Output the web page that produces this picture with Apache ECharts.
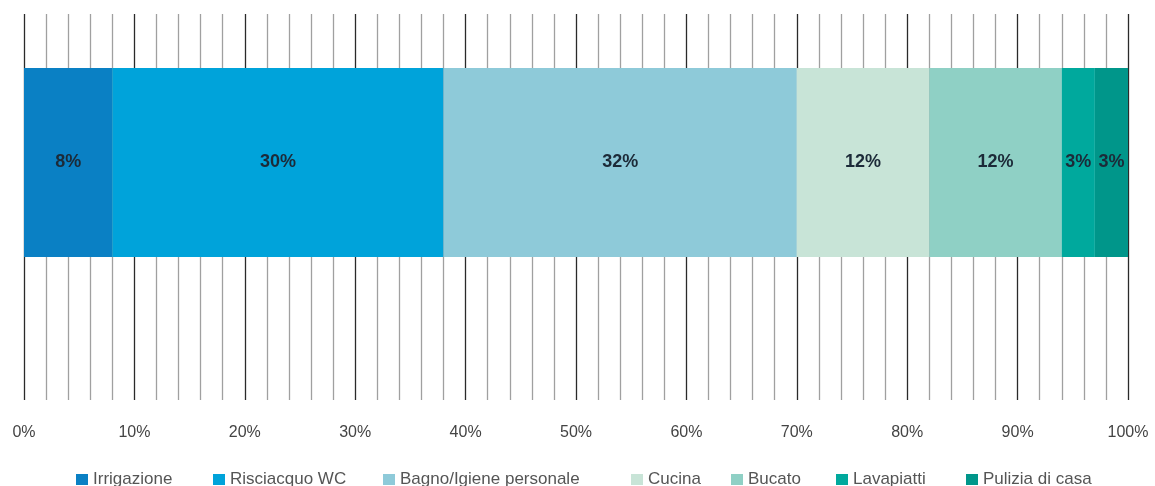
<!DOCTYPE html>
<html>
<head>
<meta charset="utf-8">
<script src="https://cdn.jsdelivr.net/npm/echarts@6/dist/echarts.min.js"></script>
<style>
html,body{margin:0;padding:0;background:#fff;}
#chart{width:1155px;height:486px;}
</style>
</head>
<body>
<div id="chart"></div>
<script>
const categories = ['Irrigazione', 'Risciacquo WC', 'Bagno/Igiene personale', 'Cucina', 'Bucato', 'Lavapiatti', 'Pulizia di casa'];
const values = [8, 30, 32, 12, 12, 3, 3];
const colors = ['#0a80c4', '#00a3da', '#8ecad9', '#c8e4d7', '#8fd0c5', '#00a99d', '#00968a'];
const barLabel = ['Consumo'];

// layout: left edge of each legend item (pixels)
const legendLeft = [71, 208, 378, 626, 726, 831, 961];

const FONT = 'Liberation Sans, Arial, sans-serif';
const chart = echarts.init(document.getElementById('chart'), null, {renderer: 'canvas'});
const series = categories.map((name, i) => ({
  name: name,
  type: 'bar',
  stack: 'total',
  xAxisIndex: 1,
  yAxisIndex: 1,
  barWidth: '100%',
  itemStyle: {color: colors[i]},
  label: {
    show: true,
    position: 'inside',
    formatter: '{c}%',
    fontFamily: FONT,
    fontWeight: 'bold',
    fontSize: 18,
    color: '#1c2a38'
  },
  data: [values[i]]
}));

const legends = categories.map((name, i) => ({
  data: [name],
  top: 466,
  left: legendLeft[i],
  icon: 'rect',
  itemWidth: 12,
  itemHeight: 11,
  textStyle: {fontSize: 17, color: '#555', fontFamily: FONT}
}));

chart.setOption({
  animation: false,
  backgroundColor: '#fff',
  textStyle: {fontFamily: FONT},
  grid: [
    {left: 24, right: 27, top: 14, bottom: 86},
    {left: 24, right: 27, top: 68, bottom: 229}
  ],
  xAxis: [
    {
      type: 'value', gridIndex: 0, min: 0, max: 100, interval: 2,
      axisLine: {show: false}, axisTick: {show: false},
      splitLine: {show: true, lineStyle: {color: ['#2a2a2a', '#a0a0a0', '#a0a0a0', '#a0a0a0', '#a0a0a0'], width: 1.3}},
      axisLabel: {
        interval: 0, margin: 25, fontSize: 16, color: '#444',
        formatter: v => (v % 10 === 0 ? v + '%' : '')
      }
    },
    {type: 'value', gridIndex: 1, min: 0, max: 100, show: false}
  ],
  yAxis: [
    {type: 'category', gridIndex: 0, data: barLabel, show: false},
    {type: 'category', gridIndex: 1, data: barLabel, show: false}
  ],
  legend: legends,
  series: series
});
</script>
</body>
</html>
